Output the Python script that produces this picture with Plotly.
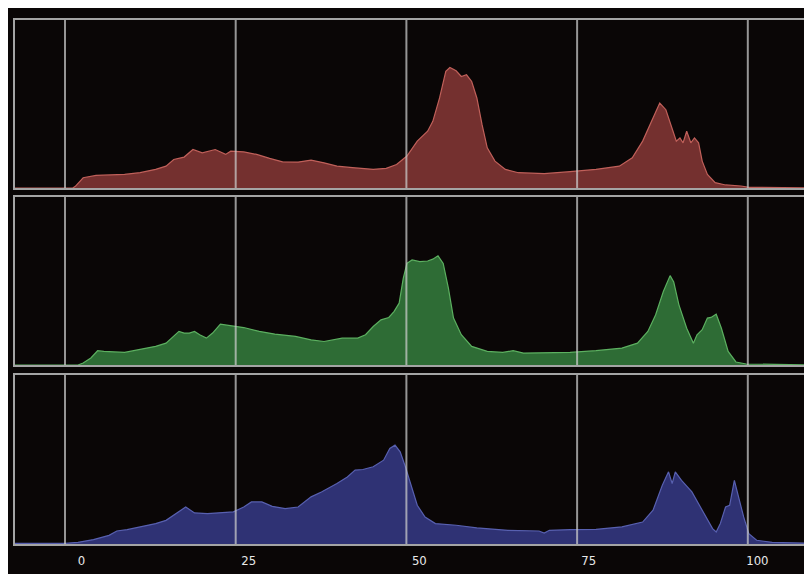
import plotly.graph_objects as go

# ---- data (x in grid units: vertical grid lines at 0, 25, 50, 75, 100) ----
grid_positions = [0, 25, 50, 75, 100]
tick_labels = ["0", "25", "50", "75", "100"]
label_positions = [2.4, 26.9, 51.9, 76.7, 101.4]

red_x = [-8, 0, 1.14, 1.52, 2.66, 4.55, 8.73, 11.0, 13.28, 14.8, 15.93, 17.45, 18.74, 20.1, 22.0,
         23.52, 24.28, 26.18, 28.07, 29.97, 31.87, 34.14, 36.04, 37.94, 39.83, 42.11, 45.14, 47.04,
         48.56, 50.08, 51.59, 53.11, 53.87, 54.86, 55.77, 56.37, 57.28, 58.04, 58.8, 59.56, 60.32,
         61.08, 61.84, 62.97, 64.49, 66.39, 70.18, 73.98, 77.77, 81.18, 83.08, 84.6, 86.12, 87.1,
         88.0, 88.77, 89.53, 90.06, 90.52, 91.05, 91.65, 92.19, 92.79, 93.32, 94.08, 95.22, 96.74,
         99.0, 100.15, 110]
red_y = [0, 0, 0, 1.0, 6.1, 7.5, 8.1, 9.1, 11.1, 13.0, 17.0, 18.4, 22.9, 20.9, 22.9,
         20.0, 21.9, 21.5, 20.0, 17.6, 15.6, 15.4, 16.6, 15.0, 13.0, 12.1, 11.1, 11.7,
         14.0, 19.0, 27.9, 33.8, 39.7, 53.6, 69.4, 71.7, 69.8, 66.4, 67.4, 63.4, 53.6,
         37.7, 23.9, 16.0, 11.1, 9.1, 8.5, 9.7, 11.1, 13.0, 18.0, 27.9, 41.7, 50.6,
         46.6, 37.7, 27.9, 29.8, 26.9, 33.8, 26.9, 29.8, 26.9, 16.0, 8.1, 3.2, 1.8,
         1.2, 0.4, 0]

green_x = [-8, 1.9, 2.66, 3.79, 4.78, 5.69, 8.73, 11.0, 13.28, 14.8, 15.93, 16.69, 17.45, 18.21,
           18.97, 19.73, 20.71, 21.62, 22.76, 24.28, 26.18, 28.45, 30.73, 33.76, 36.04, 37.94,
           40.59, 42.87, 44.01, 45.14, 46.28, 47.42, 48.18, 48.94, 49.54, 50.08, 50.83, 51.97,
           53.11, 53.87, 54.63, 55.39, 56.15, 56.9, 58.04, 59.56, 61.84, 64.11, 65.63, 67.15,
           70.18, 73.98, 77.77, 81.56, 83.84, 85.36, 86.49, 87.63, 88.62, 89.15, 89.91, 91.05,
           92.03, 92.56, 93.32, 94.08, 94.61, 95.37, 96.13, 97.12, 98.26, 99.77, 110]
green_y = [0, 0, 1.2, 4.2, 8.5, 8.1, 7.5, 9.1, 11.1, 13.0, 17.0, 20.0, 19.0, 19.0,
           20.0, 18.0, 16.0, 19.0, 24.3, 23.5, 22.3, 20.0, 18.4, 17.0, 15.0, 14.0,
           16.0, 16.0, 18.0, 22.9, 26.9, 28.3, 31.8, 36.8, 51.6, 60.5, 62.5, 61.5,
           61.9, 63.0, 65.0, 60.5, 45.7, 27.9, 18.0, 11.1, 8.1, 7.5, 8.5, 7.1,
           7.3, 7.5, 8.5, 10.1, 13.0, 20.0, 29.8, 43.7, 53.2, 49.4, 35.8, 21.9,
           13.0, 18.0, 21.0, 27.9, 28.3, 30.2, 21.9, 8.1, 1.8, 0.6, 0]

blue_x = [-8, -7.2, 0, 1.9, 4.17, 6.45, 7.59, 9.1, 11.0, 13.28, 14.8, 16.31, 17.68, 18.97, 20.86,
          24.66, 26.18, 27.31, 28.83, 30.35, 32.25, 34.14, 36.04, 37.56, 39.83, 41.35, 42.49,
          43.63, 45.14, 46.66, 47.57, 48.33, 49.09, 49.85, 50.61, 51.59, 52.73, 54.25, 57.28,
          60.32, 64.87, 69.42, 70.18, 70.94, 73.98, 77.77, 81.56, 84.6, 86.12, 87.48, 88.39,
          88.92, 89.38, 90.29, 91.81, 93.32, 94.84, 95.37, 95.98, 96.74, 97.34, 98.03, 98.63,
          99.39, 100.15, 101.29, 103.57, 108.9, 110]
blue_y = [0.4, 0.4, 0.4, 1.0, 2.6, 5.1, 7.7, 8.5, 10.1, 12.1, 14.0, 18.0, 21.9, 18.4, 18.0,
          19.0, 21.9, 24.9, 24.9, 22.3, 20.9, 21.9, 27.9, 30.8, 35.8, 39.7, 43.7,
          44.1, 45.7, 49.6, 56.5, 58.5, 54.5, 45.7, 35.8, 22.9, 16.0, 12.1, 11.1,
          9.5, 8.1, 7.7, 6.5, 8.1, 8.5, 8.7, 10.1, 13.0, 20.0, 34.8, 42.7,
          35.8, 42.7, 37.7, 30.8, 20.0, 9.1, 7.1, 12.1, 21.9, 22.9, 37.7, 27.9,
          16.0, 6.1, 2.2, 1.0, 0.4, 0.4]

# ---- figure ----
BG = "#0a0606"
BORDER = "#a4a4a4"
GRID = "rgba(205,205,205,0.72)"
X_RANGE = [-7.32, 109.4]

series = [
    (red_x, red_y, "#74302f", "#c0605a", "x", "y"),
    (green_x, green_y, "#2e6c35", "#5cb060", "x2", "y2"),
    (blue_x, blue_y, "#2f3274", "#5860b0", "x3", "y3"),
]

fig = go.Figure()
for xs, ys, fillc, linec, xa, ya in series:
    fig.add_trace(go.Scatter(
        x=xs, y=ys, mode="lines", fill="tozeroy", fillcolor=fillc,
        line=dict(color=linec, width=1.2), xaxis=xa, yaxis=ya,
        hoverinfo="skip", showlegend=False,
    ))

domains = [[0.6794, 1.0], [0.3416, 0.6622], [0.0, 0.3225]]
for i, dom in enumerate(domains):
    sfx = "" if i == 0 else str(i + 1)
    xa = dict(range=X_RANGE, showgrid=False, zeroline=False, showline=True, mirror=True,
              linecolor=BORDER, linewidth=2, layer="above traces", anchor="y" + sfx,
              fixedrange=True, showticklabels=False, ticks="")
    if i == 2:
        xa.update(showticklabels=True, tickmode="array", tickvals=label_positions,
                  ticktext=tick_labels, ticks="outside", ticklen=3,
                  tickcolor="rgba(0,0,0,0)",
                  tickfont=dict(family="DejaVu Sans Condensed, Liberation Sans Narrow, sans-serif",
                                size=13, color="#e8e8e8"))
    ya = dict(domain=dom, range=[0, 100], showgrid=False, zeroline=False, showline=True,
              mirror=False, linecolor=BORDER, linewidth=2, showticklabels=False,
              fixedrange=True, anchor="x" + sfx)
    fig.layout["xaxis" + sfx] = xa
    fig.layout["yaxis" + sfx] = ya
    for g in grid_positions:
        fig.add_shape(type="line", xref="x" + sfx, yref="y" + sfx + " domain",
                      x0=g, x1=g, y0=0, y1=1, layer="above",
                      line=dict(color=GRID, width=2))

fig.update_layout(
    width=804, height=566,
    margin=dict(l=7, r=0, t=12, b=30),
    paper_bgcolor=BG, plot_bgcolor=BG,
    showlegend=False,
)

fig.write_html("out.html")
